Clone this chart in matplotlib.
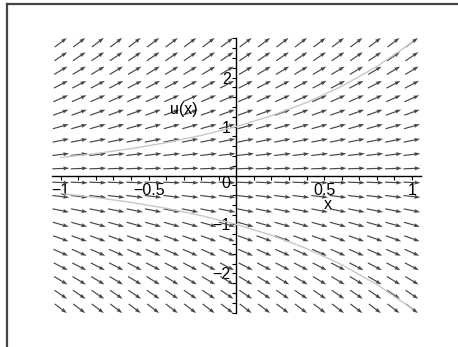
"""Direction field of du/dx = u with the two solution curves u(0) = 1 and u(0) = -1."""
import matplotlib
matplotlib.use("Agg")
import matplotlib.pyplot as plt
import numpy as np
from matplotlib.lines import Line2D
from matplotlib.ticker import MultipleLocator, FixedLocator

plt.rcParams["font.family"] = ["Liberation Sans", "DejaVu Sans"]
plt.rcParams["font.size"] = 11.5

# --- data ---
# arrow grid (20 x 20)
col_x = [-1.0, -0.895, -0.789, -0.684, -0.579, -0.474, -0.368, -0.263, -0.158, -0.053,
         0.053, 0.158, 0.263, 0.368, 0.474, 0.579, 0.684, 0.789, 0.895, 1.0]
row_u = [-2.718, -2.432, -2.146, -1.860, -1.574, -1.288, -1.001, -0.715, -0.429, -0.143,
         0.143, 0.429, 0.715, 1.001, 1.288, 1.574, 1.860, 2.146, 2.432, 2.718]
# slope of each row (du/dx = u, so same for the whole row)
row_slope = [-2.718, -2.432, -2.146, -1.860, -1.574, -1.288, -1.001, -0.715, -0.429, -0.143,
             0.143, 0.429, 0.715, 1.001, 1.288, 1.574, 1.860, 2.146, 2.432, 2.718]

# solution curves
curve_x = [-1.0, -0.8, -0.6, -0.4, -0.2, 0.0, 0.2, 0.4, 0.6, 0.8, 1.0]
upper_u = [0.368, 0.449, 0.549, 0.670, 0.819, 1.0, 1.221, 1.492, 1.822, 2.226, 2.718]
lower_u = [-0.368, -0.449, -0.549, -0.670, -0.819, -1.0, -1.221, -1.492, -1.822, -2.226, -2.718]

x_ticks = [-1, -0.5, 0.5, 1]
x_labels = ["\u22121", "\u22120.5", "0.5", "1"]
y_ticks = [-2, -1, 1, 2]
y_labels = ["\u22122", "\u22121", "1", "2"]

W, H = 458, 347
fig = plt.figure(figsize=(W / 100, H / 100), dpi=100)
ax = fig.add_axes([52 / W, 34 / H, 368.7 / W, 275 / H])
ax.set_xlim(-1.05, 1.05)
ax.set_ylim(-2.81, 2.81)

# arrows, normalised in grid-cell units like Maple's DEplot
X, Y = np.meshgrid(col_x, row_u)
S = np.tile(np.array(row_slope)[:, None], (1, len(col_x)))
dxc = col_x[1] - col_x[0]
dyc = row_u[1] - row_u[0]
a = 1.0 / dxc
b = S / dyc
n = np.sqrt(a ** 2 + b ** 2)
L = 0.92
U = L * (a / n) * dxc
V = L * (b / n) * dyc
ax.quiver(X, Y, U, V, angles="xy", scale_units="xy", scale=1, pivot="middle",
          color="#484848", width=0.0032, headwidth=3.4, headlength=5,
          headaxislength=4.5, zorder=2)

ax.plot(curve_x, upper_u, color="#c8c8c8", lw=1.0, zorder=3)
ax.plot(curve_x, lower_u, color="#c8c8c8", lw=1.0, zorder=3)

# axes through the origin
for side in ["top", "right"]:
    ax.spines[side].set_visible(False)
ax.spines["left"].set_position(("data", 0))
ax.spines["bottom"].set_position(("data", 0))
ax.spines["left"].set_linewidth(1.0)
ax.spines["bottom"].set_linewidth(1.0)

ax.xaxis.set_major_locator(FixedLocator(x_ticks))
ax.set_xticklabels(x_labels)
ax.xaxis.set_minor_locator(MultipleLocator(0.1))
ax.yaxis.set_major_locator(FixedLocator(y_ticks))
ax.set_yticklabels(y_labels)
ax.yaxis.set_minor_locator(MultipleLocator(0.2))
ax.tick_params(axis="x", which="both", direction="out", length=3, width=0.8, pad=2.5)
ax.tick_params(axis="y", which="both", direction="out", length=3, width=0.8, pad=1)

ax.text(-0.035, -0.02, "0", ha="right", va="top")
ax.text(0.52, -0.6, "x", ha="center", va="center")
ax.text(-0.30, 1.34, "u(x)", ha="center", va="center")

# frame lines on top and left of the picture
fig.add_artist(Line2D([6.5 / W, 1], [1 - 4 / H, 1 - 4 / H], transform=fig.transFigure,
                      color="#444444", lw=1.6))
fig.add_artist(Line2D([6.5 / W, 6.5 / W], [0, 1 - 4 / H], transform=fig.transFigure,
                      color="#444444", lw=1.6))

fig.savefig("out.png", dpi=100)
